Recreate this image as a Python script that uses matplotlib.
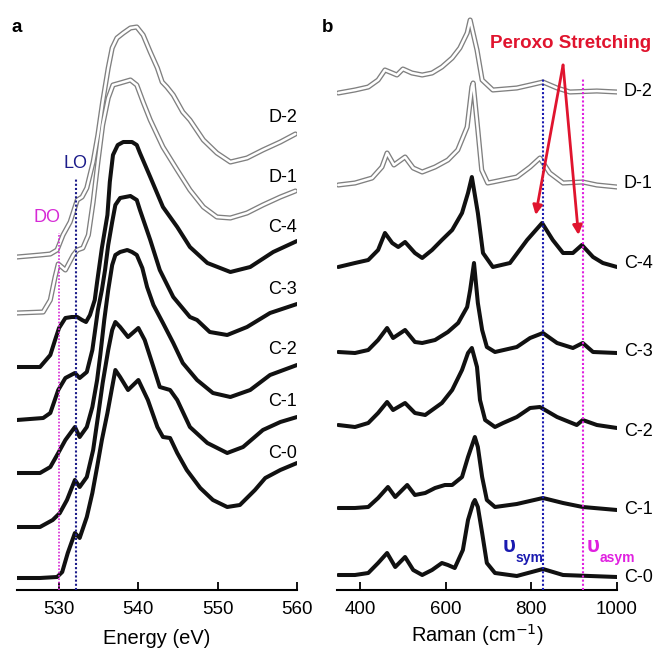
import numpy as np
import matplotlib
matplotlib.use('Agg')
import matplotlib.pyplot as plt

plt.rcParams['font.family'] = ['Liberation Sans', 'DejaVu Sans']

# ---- panel a: O K-edge XAS (energy in eV, intensity in arb. units) ----
e_c0 = [524.7, 527.6, 529.75, 530.4, 531.1, 532.0, 532.6, 533.5, 534.2, 534.8, 535.4, 536.1, 536.7, 537.1,
        537.7, 538.7, 540.0, 541.2, 542.4, 543.1, 544.0, 544.9, 546.1, 547.8, 549.4, 551.2, 552.8, 554.7,
        556.0, 557.9, 560.0]
i_c0 = [0, 0, 1, 6, 25, 45, 40, 61, 85, 111, 138, 165, 191, 208, 201, 188, 198, 178, 151, 141, 140, 125,
        108, 90, 78, 71, 73, 88, 100, 108, 115]

e_c1 = [524.7, 527.6, 529.2, 530.1, 531.0, 532.0, 532.6, 533.5, 534.3, 534.9, 535.5, 536.2, 536.7, 537.1,
        537.7, 538.7, 540.0, 540.8, 541.9, 542.7, 544.0, 544.9, 546.5, 548.7, 551.2, 553.2, 555.7, 557.9, 560.0]
i_c1 = [0, 0, 7, 14, 27, 47, 40, 50, 77, 110, 144, 177, 197, 205, 200, 190, 199, 187, 160, 140, 137, 127,
        100, 84, 74, 80, 97, 105, 110]

e_c2 = [524.7, 527.6, 528.9, 529.9, 530.8, 532.0, 532.6, 533.5, 534.2, 534.8, 535.2, 535.7, 536.2, 536.7,
        537.1, 537.7, 538.6, 539.2, 539.8, 540.5, 541.1, 541.9, 543.1, 544.4, 545.6, 547.4, 549.4, 551.6,
        554.1, 556.6, 560.0]
i_c2 = [0, 0, 6, 20, 33, 46, 36, 46, 66, 93, 118, 153, 183, 208, 218, 221, 223, 221, 218, 205, 186, 168,
        150, 130, 110, 93, 80, 76, 83, 98, 108]

e_c3 = [524.7, 528.0, 528.9, 529.9, 530.8, 532.0, 532.6, 533.5, 534.2, 534.5, 534.9, 535.4, 535.8, 536.2,
        536.7, 537.1, 537.7, 539.0, 539.8, 540.2, 541.5, 542.7, 544.4, 546.5, 547.4, 549.0, 551.2, 553.7,
        556.6, 560.0]
i_c3 = [0, 2, 7, 30, 42, 47, 42, 48, 70, 87, 110, 130, 150, 175, 198, 215, 222, 224, 220, 210, 180, 150,
        123, 103, 100, 88, 85, 93, 107, 116]

e_c4 = [524.7, 527.6, 528.9, 529.5, 530.0, 530.8, 531.6, 532.3, 532.9, 533.4, 533.9, 534.5, 534.8, 535.4,
        536.1, 536.4, 536.8, 537.4, 538.1, 539.2, 539.8, 540.2, 541.5, 543.1, 544.9, 546.5, 548.7, 551.6,
        554.1, 557.0, 560.0]
i_c4 = [0, 0, 12, 27, 39, 49, 50, 50, 47, 45, 52, 67, 85, 119, 152, 185, 212, 222, 225, 225, 222, 214,
        190, 160, 140, 120, 104, 95, 100, 115, 126]

e_d1 = [524.7, 528.0, 528.9, 529.5, 529.9, 530.8, 531.8, 532.3, 533.0, 533.7, 534.3, 534.9, 535.5, 536.2,
        536.8, 537.7, 539.0, 539.8, 540.6, 541.5, 543.1, 544.9, 546.5, 548.2, 549.9, 551.6, 553.7, 555.7,
        557.9, 559.8]
i_d1 = [0, 1, 13, 36, 49, 43, 58, 63, 65, 78, 111, 151, 188, 215, 228, 230, 233, 228, 211, 193, 166, 143,
        123, 106, 96, 95, 100, 108, 116, 122]

e_d2 = [524.7, 527.6, 528.9, 529.75, 530.5, 531.4, 532.3, 532.9, 533.5, 534.3, 534.9, 535.5, 536.2, 536.7,
        537.3, 538.1, 539.0, 539.8, 540.6, 541.5, 542.4, 543.0, 543.6, 544.4, 545.6, 546.5, 548.2, 549.9,
        551.6, 553.7, 555.7, 557.9, 559.8]
i_d2 = [0, 2, 3, 7, 22, 35, 57, 60, 69, 95, 122, 155, 189, 209, 219, 224, 229, 230, 222, 205, 189, 175,
        170, 162, 145, 137, 117, 104, 95, 99, 107, 115, 123]

xas_names = ['C-0', 'C-1', 'C-2', 'C-3', 'C-4', 'D-1', 'D-2']
xas_energy = [e_c0, e_c1, e_c2, e_c3, e_c4, e_d1, e_d2]
xas_int = [i_c0, i_c1, i_c2, i_c3, i_c4, i_d1, i_d2]
xas_offset = [12, 63, 117, 170, 223, 277, 333]
xas_label_y = [137, 188, 240, 300, 363, 413, 472]

# ---- panel b: Raman (cm-1, arb. units) ----
r_c0 = [349, 388, 419, 442, 463, 482, 505, 524, 545, 568, 591, 605, 621, 640, 652, 664, 668, 675, 685,
        696, 715, 766, 827, 874, 1000]
s_c0 = [1, 1, 3, 13, 23, 9, 19, 6, 1, 6, 13, 11, 8, 26, 56, 73, 76, 69, 43, 13, 3, 0, 7, 1, -1]

r_c1 = [349, 388, 419, 442, 465, 482, 510, 528, 552, 575, 598, 615, 638, 652, 668, 675, 685, 696, 715,
        766, 827, 874, 920, 1000]
s_c1 = [0, 0, 1, 10, 21, 11, 23, 13, 15, 20, 23, 23, 31, 51, 71, 61, 31, 8, 1, 4, 10, 5, 1, -2]

r_c2 = [349, 388, 419, 442, 463, 477, 505, 528, 552, 591, 615, 638, 652, 661, 673, 680, 692, 715, 734,
        766, 797, 820, 860, 906, 920, 953, 1000]
s_c2 = [2, 0, 4, 14, 25, 17, 24, 14, 12, 24, 37, 57, 74, 79, 60, 27, 7, 0, 4, 10, 19, 20, 10, 2, 7, 2, -1]

r_c3 = [349, 388, 419, 442, 463, 477, 505, 528, 545, 575, 605, 629, 650, 657, 666, 675, 685, 696, 715,
        766, 797, 827, 860, 897, 920, 944, 1000]
s_c3 = [1, 0, 3, 13, 25, 15, 23, 11, 10, 13, 21, 30, 46, 63, 90, 50, 23, 6, 1, 6, 15, 20, 10, 5, 10, 1, 0]

r_c4 = [349, 388, 419, 442, 458, 475, 489, 505, 528, 545, 568, 591, 615, 638, 652, 661, 675, 687, 710,
        750, 790, 825, 850, 874, 897, 918, 944, 967, 1000]
s_c4 = [-2, 2, 5, 15, 32, 22, 18, 23, 12, 7, 15, 25, 35, 52, 72, 88, 52, 12, -2, 2, 25, 42, 25, 12, 12,
        20, 8, 2, -2]

r_d1 = [349, 388, 428, 451, 463, 479, 505, 524, 545, 575, 605, 628, 650, 661, 664, 675, 684, 698, 710,
        766, 797, 820, 843, 874, 920, 953, 1000]
s_d1 = [0, 2, 7, 18, 32, 20, 28, 17, 13, 18, 25, 35, 58, 98, 102, 55, 15, 2, 3, 8, 18, 27, 12, 2, 3, 0, -2]

r_d2 = [349, 388, 419, 442, 458, 475, 486, 500, 521, 545, 568, 591, 615, 633, 650, 657, 673, 685, 710,
        766, 797, 827, 860, 890, 953, 1000]
s_d2 = [-1, 2, 5, 12, 22, 19, 17, 23, 19, 17, 19, 25, 34, 44, 59, 72, 42, 12, 2, 4, 7, 10, 4, 0, 1, 0]

raman_names = ['C-0', 'C-1', 'C-2', 'C-3', 'C-4', 'D-1', 'D-2']
raman_shift = [r_c0, r_c1, r_c2, r_c3, r_c4, r_d1, r_d2]
raman_int = [s_c0, s_c1, s_c2, s_c3, s_c4, s_d1, s_d2]
raman_offset = [14, 82, 163, 237, 325, 405, 498]
raman_label_y = [13, 80, 158, 238, 327, 407, 498]

DO_E, LO_E = 530.0, 532.1
NU_SYM, NU_ASYM = 828, 920

MAGENTA = '#d62ad6'
NAVY = '#1c1c8a'
RED = '#e0142e'
GRAY = '#808080'


def draw_curve(ax, x, y, off, hollow):
    y = np.asarray(y, dtype=float) + off
    if hollow:
        ax.plot(x, y, color=GRAY, lw=3.7, solid_capstyle='round', solid_joinstyle='round', zorder=2)
        ax.plot(x, y, color='white', lw=1.8, solid_capstyle='round', solid_joinstyle='round', zorder=2.1)
    else:
        ax.plot(x, y, color='#111111', lw=2.9, solid_capstyle='round', solid_joinstyle='round', zorder=2)


def style_axis(ax, xlim, ticks):
    ax.set_xlim(*xlim)
    ax.set_ylim(0, 580)
    for s in ['left', 'right', 'top']:
        ax.spines[s].set_visible(False)
    ax.spines['bottom'].set_linewidth(1.5)
    ax.set_yticks([])
    ax.set_xticks(ticks)
    ax.tick_params(axis='x', direction='in', length=6, width=1.3, labelsize=13.5, pad=8)


fig = plt.figure(figsize=(6.6, 6.5), dpi=100)
ax_a = fig.add_axes([17 / 660, 60 / 650, 280 / 660, 580 / 650])
ax_b = fig.add_axes([337 / 660, 60 / 650, 280 / 660, 580 / 650])

# panel a
for name, x, y, off, ly in zip(xas_names, xas_energy, xas_int, xas_offset, xas_label_y):
    draw_curve(ax_a, x, y, off, name.startswith('D'))
    ax_a.text(560, ly, name, ha='right', va='center', fontsize=13, clip_on=False)
ax_a.plot([DO_E, DO_E], [0, 357], ls=(0, (1, 1)), color=MAGENTA, lw=1.2, zorder=3)
ax_a.plot([LO_E, LO_E], [0, 412], ls=(0, (1, 1)), color=NAVY, lw=1.5, zorder=3)
ax_a.text(528.5, 372, 'DO', color=MAGENTA, fontsize=13, ha='center', va='center')
ax_a.text(LO_E, 427, 'LO', color=NAVY, fontsize=13, ha='center', va='center')
style_axis(ax_a, (524.7, 560), [530, 540, 550, 560])
ax_a.set_xlabel('Energy (eV)', fontsize=14.5, labelpad=8)

# panel b
for name, x, y, off, ly in zip(raman_names, raman_shift, raman_int, raman_offset, raman_label_y):
    draw_curve(ax_b, x, y, off, name.startswith('D'))
    ax_b.text(1016, ly, name, ha='left', va='center', fontsize=13, clip_on=False)
ax_b.plot([NU_SYM, NU_SYM], [0, 512], ls=(0, (1, 1)), color='#1a1ab0', lw=1.5, zorder=3)
ax_b.plot([NU_ASYM, NU_ASYM], [0, 512], ls=(0, (1, 1)), color='#e020e0', lw=1.5, zorder=3)
for xr, sub, col in [(764, 'sym', '#1a1ab0'), (960, 'asym', '#e020e0')]:
    ax_b.text(xr, 43, 'υ', color=col, fontsize=16, fontweight='bold', ha='right', va='center')
    ax_b.text(xr, 32, sub, color=col, fontsize=10, fontweight='bold', ha='left', va='center')
ax_b.text(892, 547, 'Peroxo Stretching', color=RED, fontsize=13.5, fontweight='bold',
          ha='center', va='center')
for tip in [(810, 375), (910, 355)]:
    ax_b.annotate('', xy=tip, xytext=(874, 525),
                  arrowprops=dict(arrowstyle='-|>', color=RED, lw=2.0,
                                  mutation_scale=14, shrinkA=0, shrinkB=0))
style_axis(ax_b, (346, 1000), [400, 600, 800, 1000])
ax_b.set_xlabel('Raman (cm$^{-1}$)', fontsize=14.5, labelpad=3)

fig.text(12 / 660, 1 - 27 / 650, 'a', fontsize=13.5, fontweight='bold', va='center')
fig.text(322 / 660, 1 - 27 / 650, 'b', fontsize=13.5, fontweight='bold', va='center')

fig.savefig('out.png', dpi=100)
